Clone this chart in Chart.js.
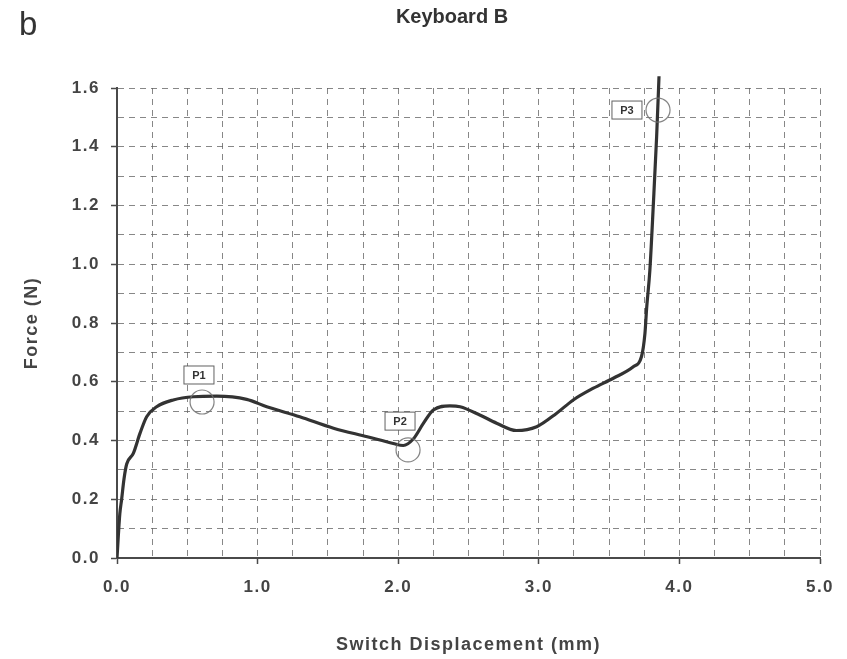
<!DOCTYPE html>
<html>
<head>
<meta charset="utf-8">
<title>Keyboard B</title>
<script src="https://cdn.jsdelivr.net/npm/chart.js@4/dist/chart.umd.min.js"></script>
<style>
  html, body { margin: 0; padding: 0; background: #ffffff; }
  #wrap { width: 847px; height: 659px; }
</style>
</head>
<body>
<div id="wrap"><canvas id="c" width="847" height="659"></canvas></div>
<script>
// Force–displacement curve of the key switch
const displacement = [0, 0.01, 0.02, 0.033, 0.05, 0.069, 0.116, 0.164, 0.211, 0.282, 0.40, 0.543, 0.709, 0.922,
  1.065, 1.30, 1.54, 1.78, 1.965, 2.036, 2.107, 2.18, 2.25, 2.368, 2.44, 2.58, 2.70, 2.84, 2.985,
  3.127, 3.245, 3.388, 3.53, 3.672, 3.73, 3.755, 3.767, 3.79, 3.815, 3.838, 3.855];
const force = [0, 0.08, 0.15, 0.20, 0.27, 0.32, 0.356, 0.425, 0.481, 0.515, 0.538, 0.549, 0.551, 0.540,
  0.515, 0.481, 0.442, 0.413, 0.390, 0.383, 0.405, 0.459, 0.504, 0.518, 0.515, 0.487, 0.459, 0.434, 0.447,
  0.493, 0.538, 0.578, 0.612, 0.651, 0.685, 0.765, 0.85, 0.98, 1.207, 1.434, 1.64];

// Tick labels
const xTickLabels = ['0.0', '1.0', '2.0', '3.0', '4.0', '5.0'];
const yTickLabels = ['0.0', '0.2', '0.4', '0.6', '0.8', '1.0', '1.2', '1.4', '1.6'];

// Marked points P1–P3: circle positions and their tag positions (data units)
const pointNames = ['P1', 'P2', 'P3'];
const circleX = [0.605, 2.07, 3.848];
const circleY = [0.531, 0.368, 1.525];
const tagX = [0.583, 2.013, 3.627];
const tagY = [0.623, 0.466, 1.525];

const figureLetter = 'b';
const chartTitle = 'Keyboard B';
const xTitle = 'Switch Displacement (mm)';
const yTitle = 'Force (N)';

const points = displacement.map((x, i) => ({ x: x, y: force[i] }));

const FONT = "'Liberation Sans', Arial, Helvetica, sans-serif";
const GRID = 'rgba(95,95,95,0.75)';
const AXIS = '#4a4a4a';

const decorations = {
  id: 'decorations',
  beforeDraw(chart) {
    chart.ctx.letterSpacing = '1.5px';
  },
  afterDatasetsDraw(chart) {
    const ctx = chart.ctx;
    const xs = chart.scales.x, ys = chart.scales.y;
    ctx.save();
    ctx.letterSpacing = '0px';
    for (let i = 0; i < pointNames.length; i++) {
      // circle around the marked point
      const cx = xs.getPixelForValue(circleX[i]);
      const cy = ys.getPixelForValue(circleY[i]);
      ctx.beginPath();
      ctx.strokeStyle = 'rgba(110,110,110,0.85)';
      ctx.lineWidth = 1.2;
      ctx.arc(cx, cy, 12, 0, Math.PI * 2);
      ctx.stroke();
      // tag box
      const tx = xs.getPixelForValue(tagX[i]);
      const ty = ys.getPixelForValue(tagY[i]);
      const w = 30, h = 18;
      ctx.fillStyle = '#ffffff';
      ctx.fillRect(tx - w / 2, ty - h / 2, w, h);
      ctx.strokeStyle = 'rgba(80,80,80,0.9)';
      ctx.lineWidth = 1;
      ctx.strokeRect(tx - w / 2, ty - h / 2, w, h);
      ctx.fillStyle = '#333333';
      ctx.font = 'bold 11px ' + FONT;
      ctx.textAlign = 'center';
      ctx.textBaseline = 'middle';
      ctx.fillText(pointNames[i], tx, ty + 0.5);
    }
    ctx.restore();
  },
  afterDraw(chart) {
    const ctx = chart.ctx;
    ctx.save();
    ctx.letterSpacing = '0px';
    ctx.fillStyle = '#333333';
    ctx.textBaseline = 'alphabetic';
    ctx.textAlign = 'left';
    ctx.font = '33px ' + FONT;
    ctx.fillText(figureLetter, 19, 35);
    ctx.textAlign = 'center';
    ctx.font = 'bold 20px ' + FONT;
    ctx.fillText(chartTitle, 452, 23);
    ctx.restore();
  }
};

new Chart(document.getElementById('c'), {
  type: 'line',
  data: {
    datasets: [{
      data: points,
      borderColor: '#333333',
      borderWidth: 3.2,
      pointRadius: 0,
      fill: false,
      cubicInterpolationMode: 'monotone',
      clip: { left: 0, top: 14, right: 0, bottom: 0 }
    }]
  },
  options: {
    responsive: false,
    devicePixelRatio: 1,
    animation: false,
    layout: { padding: { left: 0, right: 27, top: 88, bottom: 0 } },
    plugins: { legend: { display: false }, tooltip: { enabled: false }, title: { display: false } },
    scales: {
      x: {
        type: 'linear',
        min: 0, max: 5,
        afterFit(scale) { scale.height = 101; },
        ticks: {
          stepSize: 0.25,
          autoSkip: false,
          maxRotation: 0,
          padding: 13,
          color: '#444444',
          font: { family: FONT, size: 17, weight: 'bold' },
          callback(v) {
            const k = Math.round(v * 4);
            return k % 4 === 0 ? xTickLabels[k / 4] : '';
          }
        },
        grid: {
          color: GRID,
          lineWidth: 1,
          tickLength: 6,
          tickWidth: 1.5,
          tickColor(ctx) {
            const v = ctx.tick ? ctx.tick.value : 0;
            return Math.round(v * 4) % 4 === 0 ? AXIS : 'rgba(0,0,0,0)';
          }
        },
        border: { display: true, color: AXIS, width: 2, dash: [6, 5] },
        title: {
          display: true,
          text: xTitle,
          color: '#444444',
          font: { family: FONT, size: 18, weight: 'bold' },
          padding: { top: 0, bottom: 3 }
        }
      },
      y: {
        type: 'linear',
        min: 0, max: 1.6,
        afterFit(scale) { scale.width = 117; },
        ticks: {
          stepSize: 0.1,
          autoSkip: false,
          padding: 11,
          color: '#444444',
          font: { family: FONT, size: 17, weight: 'bold' },
          callback(v) {
            const k = Math.round(v * 10);
            return k % 2 === 0 ? yTickLabels[k / 2] : '';
          }
        },
        grid: {
          color: GRID,
          lineWidth: 1,
          tickLength: 6,
          tickWidth: 1.5,
          tickColor(ctx) {
            const v = ctx.tick ? ctx.tick.value : 0;
            return Math.round(v * 10) % 2 === 0 ? AXIS : 'rgba(0,0,0,0)';
          }
        },
        border: { display: true, color: AXIS, width: 2, dash: [6, 5] },
        title: {
          display: true,
          text: yTitle,
          color: '#444444',
          font: { family: FONT, size: 18, weight: 'bold' },
          padding: { top: 21, bottom: 0 }
        }
      }
    }
  },
  plugins: [decorations]
});
</script>
</body>
</html>
